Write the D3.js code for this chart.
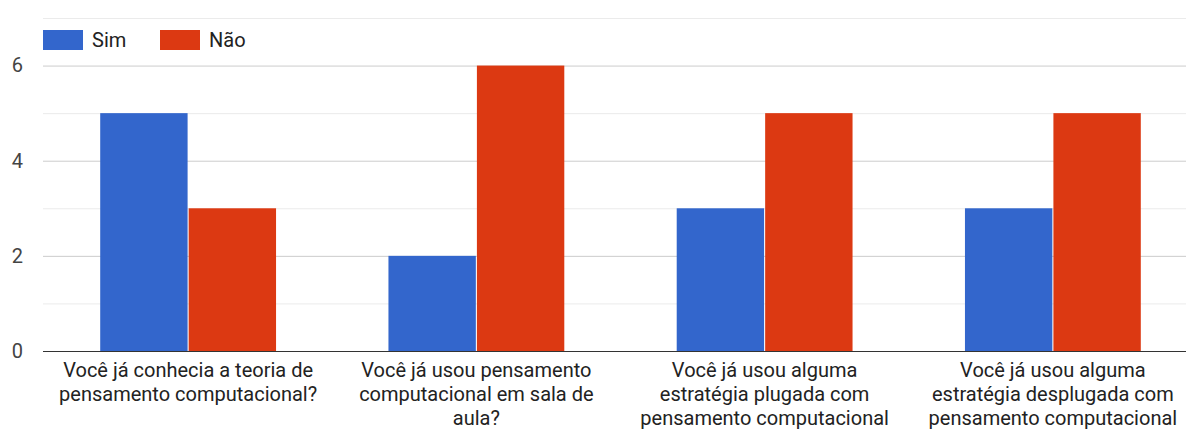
<!DOCTYPE html>
<html>
<head>
<meta charset="utf-8">
<script src="https://cdn.jsdelivr.net/npm/d3@7"></script>
<style>
  html, body { margin: 0; padding: 0; background: #fff; overflow: hidden; }
  svg { display: block; font-family: Roboto, "Liberation Sans", Arial, sans-serif; }
</style>
</head>
<body>
<svg id="chart" width="1186" height="432"></svg>
<script>
// Survey questions (each label wrapped onto lines) and answer counts
const categories = [
  ["Você já conhecia a teoria de", "pensamento computacional?"],
  ["Você já usou pensamento", "computacional em sala de", "aula?"],
  ["Você já usou alguma", "estratégia plugada com", "pensamento computacional"],
  ["Você já usou alguma", "estratégia desplugada com", "pensamento computacional"]
];
const seriesNames = ["Sim", "Não"];
const simValues = [5, 2, 3, 3];
const naoValues = [3, 6, 5, 5];
const yTicks = [0, 2, 4, 6];
const yGrid = [1, 2, 3, 4, 5, 6, 7];

const colors = { "Sim": "#3366cc", "Não": "#dc3912" };

const svg = d3.select("#chart");
const plotLeft = 43, plotRight = 1197, plotTop = 18, plotBottom = 351;
const fontSize = 20;

const x0 = d3.scaleBand()
  .domain(d3.range(categories.length))
  .range([plotLeft + 1, plotRight])
  .paddingInner(0.39)
  .paddingOuter(0.195);

const x1 = d3.scaleBand()
  .domain(seriesNames)
  .range([0, x0.bandwidth()])
  .paddingInner(0.012);

const y = d3.scaleLinear().domain([0, 7]).range([plotBottom, plotTop]);

// Grid lines: even values slightly darker
svg.append("g").selectAll("line")
  .data(yGrid)
  .join("line")
  .attr("x1", plotLeft).attr("x2", 1186)
  .attr("y1", d => y(d) + 0.5).attr("y2", d => y(d) + 0.5)
  .attr("stroke", d => d % 2 === 0 ? "#cccccc" : "#ebebeb")
  .attr("stroke-width", 1);

// Bars
const rows = categories.map((c, i) => ({ i, values: [
  { key: "Sim", v: simValues[i] },
  { key: "Não", v: naoValues[i] }
]}));

svg.append("g").selectAll("g")
  .data(rows)
  .join("g")
  .attr("transform", d => `translate(${x0(d.i)},0)`)
  .selectAll("rect")
  .data(d => d.values)
  .join("rect")
  .attr("x", d => x1(d.key))
  .attr("width", x1.bandwidth())
  .attr("y", d => y(d.v))
  .attr("height", d => y(0) - y(d.v))
  .attr("fill", d => colors[d.key]);

// Baseline
svg.append("line")
  .attr("x1", plotLeft).attr("x2", 1186)
  .attr("y1", y(0) + 0.5).attr("y2", y(0) + 0.5)
  .attr("stroke", "#333333").attr("stroke-width", 1);

// Y axis labels
const yAxis = d3.axisLeft(y).tickValues(yTicks).tickSize(0).tickPadding(0).tickFormat(d3.format("d"));
const yg = svg.append("g").attr("transform", "translate(23,0)").call(yAxis);
yg.select(".domain").remove();
yg.selectAll("text")
  .attr("font-size", fontSize)
  .attr("font-family", "Roboto, Liberation Sans, Arial, sans-serif")
  .attr("fill", "#444444");

// X category labels, wrapped
const xl = svg.append("g");
categories.forEach((lines, i) => {
  const cx = x0(i) + x0.bandwidth() / 2;
  const t = xl.append("text")
    .attr("text-anchor", "middle")
    .attr("font-size", fontSize)
    .attr("fill", "#222222");
  lines.forEach((ln, k) => {
    t.append("tspan").attr("x", cx).attr("y", 377 + k * 24).text(ln);
  });
});

// Legend
const lg = svg.append("g");
const legendX = [43, 160];
seriesNames.forEach((name, i) => {
  lg.append("rect")
    .attr("x", legendX[i]).attr("y", 30)
    .attr("width", 40).attr("height", 20)
    .attr("fill", colors[name]);
  lg.append("text")
    .attr("x", legendX[i] + 49).attr("y", 47)
    .attr("font-size", fontSize)
    .attr("fill", "#222222")
    .text(name);
});
</script>
</body>
</html>
